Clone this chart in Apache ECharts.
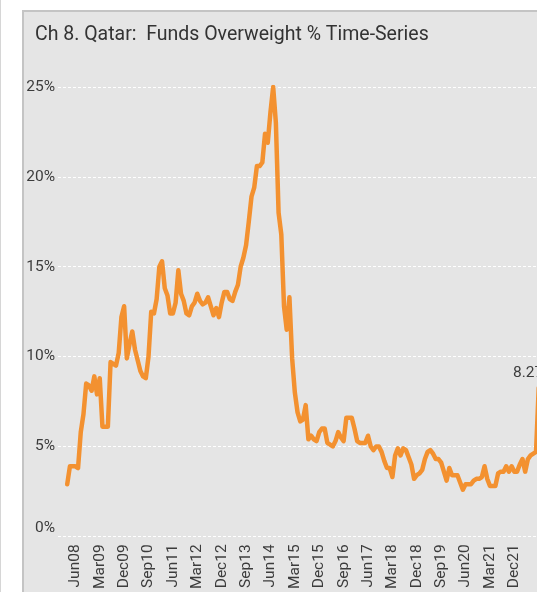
<!DOCTYPE html>
<html>
<head>
<meta charset="utf-8">
<script src="https://cdn.jsdelivr.net/npm/echarts@6/dist/echarts.min.js"></script>
<style>
  html, body { margin: 0; padding: 0; width: 537px; height: 592px; overflow: hidden; background: #fff; }
  .edge { position: absolute; left: 0; top: 0; width: 1px; height: 592px; background: #d6d6d6; }
  .panel { position: absolute; left: 22px; top: 10px; width: 700px; height: 700px;
           background: #e5e5e5; border-left: 2px solid #c4c4c4; border-top: 2px solid #c4c4c4; }
  #chart { position: absolute; left: 0; top: 0; width: 620px; height: 592px; }
</style>
</head>
<body>
<div class="edge"></div>
<div class="panel"></div>
<div id="chart"></div>
<script>
// monthly % of funds overweight Qatar, starting Mar08
const values = [
  2.9, 3.9, 3.9, 3.9, 3.8, 5.8, 6.8, 8.5, 8.4, 8.1,
  8.9, 7.9, 8.8, 6.1, 6.1, 6.1, 9.7, 9.6, 9.5, 10.2,
  12.2, 12.8, 9.9, 10.7, 11.4, 10.4, 9.8, 9.2, 8.9, 8.8,
  10.0, 12.5, 12.4, 13.2, 15.0, 15.3, 13.8, 13.4, 12.4, 12.4,
  13.0, 14.8, 13.5, 13.1, 12.4, 12.3, 12.8, 13.0, 13.5, 13.1,
  12.9, 13.0, 13.3, 12.8, 12.3, 12.7, 12.2, 13.0, 13.6, 13.6,
  13.2, 13.1, 13.6, 14.0, 15.0, 15.5, 16.2, 17.5, 18.9, 19.4,
  20.6, 20.6, 20.8, 22.4, 21.9, 23.6, 25.0, 23.0, 18.0, 16.8,
  12.8, 11.5, 13.3, 9.9, 8.0, 6.9, 6.4, 6.5, 7.3, 5.4,
  5.6, 5.4, 5.3, 5.8, 6.0, 6.0, 5.2, 5.1, 5.0, 5.3,
  5.8, 5.5, 5.3, 6.6, 6.6, 6.6, 6.0, 5.3, 5.2, 5.2,
  5.2, 5.6, 5.0, 4.8, 5.0, 5.0, 4.7, 4.2, 3.8, 3.8,
  3.3, 4.5, 4.9, 4.5, 4.9, 4.8, 4.4, 4.0, 3.2, 3.4,
  3.5, 3.7, 4.3, 4.7, 4.8, 4.6, 4.3, 4.3, 4.1, 3.6,
  3.1, 3.8, 3.4, 3.4, 3.4, 3.0, 2.6, 2.9, 2.9, 2.9,
  3.1, 3.2, 3.2, 3.3, 3.9, 3.2, 2.8, 2.8, 2.8, 3.5,
  3.6, 3.6, 3.9, 3.6, 3.9, 3.6, 3.6, 4.0, 4.3, 3.6,
  4.3, 4.5, 4.6, 4.7, 8.27
];

// x tick labels, every 9 months from Jun08 (month index 3)
const tickLabels = ['Jun08', 'Mar09', 'Dec09', 'Sep10', 'Jun11', 'Mar12', 'Dec12', 'Sep13',
  'Jun14', 'Mar15', 'Dec15', 'Sep16', 'Jun17', 'Mar18', 'Dec18', 'Sep19', 'Jun20', 'Mar21', 'Dec21'];
const tickIndex = tickLabels.map((_, k) => 3 + 9 * k);

const yTicks = [0, 5, 10, 15, 20, 25];

const font = 'Roboto, sans-serif';
const textColor = '#3c3c3c';
const lineColor = '#F39130';

const last = values.length - 1;
const seriesData = values.map((v, i) => {
  if (i !== last) return [i, v];
  return {
    value: [i, v],
    label: {
      show: true,
      position: 'top',
      offset: [-5, -2],
      formatter: (p) => p.value[1].toFixed(2) + '%',
      color: textColor,
      fontFamily: font,
      fontSize: 15.5,
    },
  };
});

const chart = echarts.init(document.getElementById('chart'), null, { renderer: 'canvas' });

chart.setOption({
  backgroundColor: 'transparent',
  animation: false,
  title: {
    text: 'Ch 8. Qatar:  Funds Overweight % Time-Series',
    left: 30,
    top: 20,
    textStyle: { color: '#333', fontFamily: font, fontSize: 19.5, fontWeight: 'normal' },
  },
  grid: { left: 58, top: 87, width: 497, height: 453 },
  xAxis: {
    type: 'value',
    min: -3.4,
    max: 180,
    axisLine: { show: false },
    axisTick: { show: false },
    splitLine: { show: false },
    axisLabel: {
      customValues: tickIndex,
      rotate: 90,
      margin: 8,
      padding: [5, 0, 0, 0],
      color: textColor,
      fontFamily: font,
      fontSize: 15.5,
      formatter: (v) => tickLabels[tickIndex.indexOf(v)] || '',
    },
  },
  yAxis: {
    type: 'value',
    min: yTicks[0],
    max: yTicks[yTicks.length - 1],
    interval: 5,
    axisLine: { show: false },
    axisTick: { show: false },
    splitLine: { lineStyle: { color: '#ffffff', width: 1, type: [3, 2] } },
    axisLabel: {
      margin: 3,
      color: textColor,
      fontFamily: font,
      fontSize: 15.5,
      formatter: (v) => (v === 0 ? '{z|0%}' : v + '%'),
      rich: { z: { color: textColor, fontFamily: font, fontSize: 15.5, padding: [0, 0, 16, 0] } },
    },
  },
  series: [{
    type: 'line',
    data: seriesData,
    showSymbol: true,
    showAllSymbol: true,
    symbol: 'circle',
    symbolSize: 0,
    lineStyle: { color: lineColor, width: 4.5, join: 'round', cap: 'round' },
    itemStyle: { color: lineColor },
  }],
});
</script>
</body>
</html>
